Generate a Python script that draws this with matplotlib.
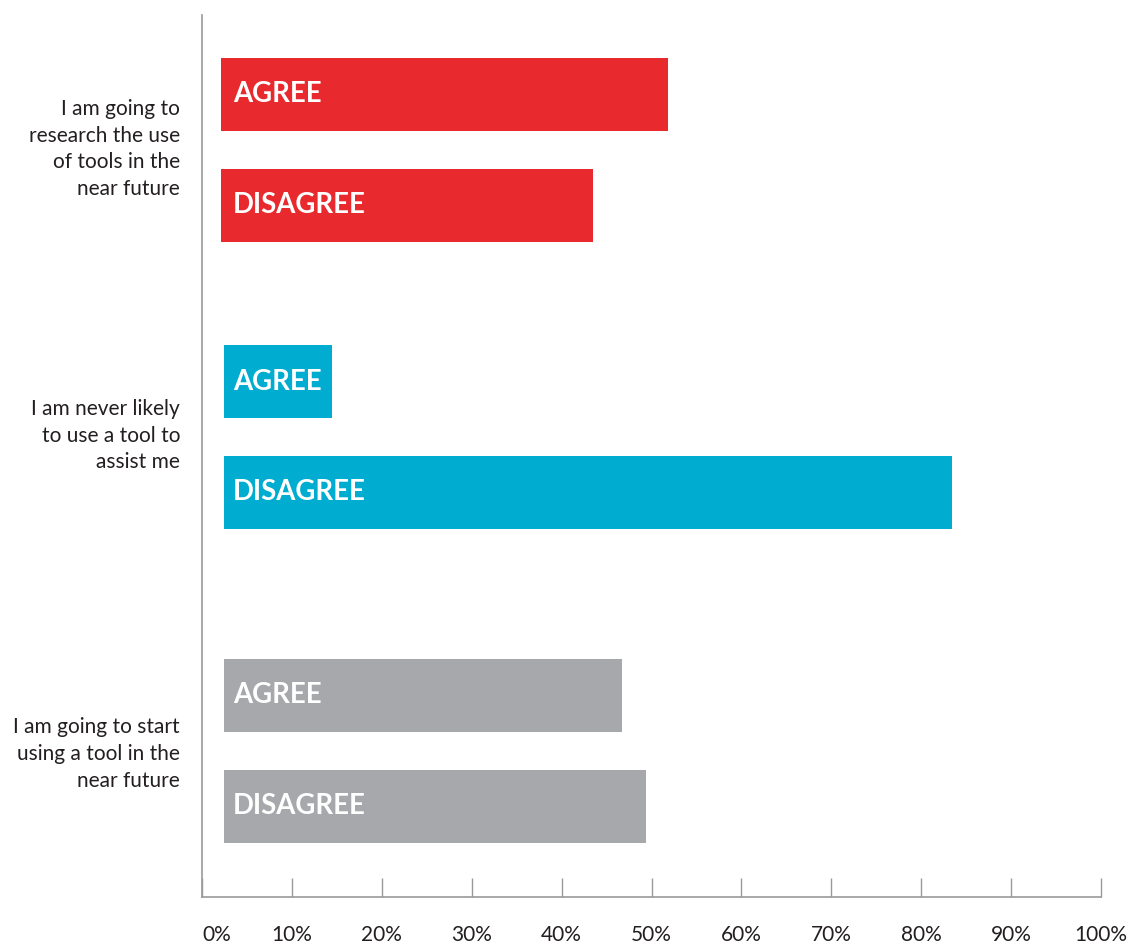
import matplotlib
matplotlib.use("Agg")
import matplotlib.pyplot as plt

# ---- data ----
statements = [
    "I am going to\nresearch the use\nof tools in the\nnear future",
    "I am never likely\nto use a tool to\nassist me",
    "I am going to start\nusing a tool in the\nnear future",
]
responses = ["AGREE", "DISAGREE"]
agree_pct = [51.8, 14.5, 46.7]      # bar end (% of axis)
disagree_pct = [43.5, 83.4, 49.4]   # bar end (% of axis)
bar_starts = [2.1, 2.4, 2.4]
colors = ["#E8292D", "#00ACCF", "#A7A8AB"]
tick_vals = list(range(0, 101, 10))
tick_labels = [f"{v}%" for v in tick_vals]

# ---- layout ----
W, H, DPI = 1133, 944, 100
fig = plt.figure(figsize=(W / DPI, H / DPI), dpi=DPI)
ax_left, ax_right, ax_top, ax_bot = 202, 1101, 15, 897
ax = fig.add_axes([ax_left / W, 1 - ax_bot / H, (ax_right - ax_left) / W, (ax_bot - ax_top) / H])
ax.set_xlim(0, 100)
ax.set_ylim(ax_bot - ax_top, 0)

group_centers = [134.5, 422, 735.5]   # in pixel-like units from top of axes
label_centers = [134, 420.5, 739]
offset = 55.5
bar_h = 73

font = "Lato"
for i in range(len(statements)):
    vals = [agree_pct[i], disagree_pct[i]]
    ys = [group_centers[i] - offset, group_centers[i] + offset]
    for resp, v, y in zip(responses, vals, ys):
        ax.barh(y, v - bar_starts[i], left=bar_starts[i], height=bar_h,
                color=colors[i], edgecolor="none")
        ax.text(3.45, y, resp, color="white", fontsize=19.8, fontweight="bold",
                family=font, va="center", ha="left")
    ax.text(-22 / (ax_right - ax_left), label_centers[i], statements[i],
            transform=ax.get_yaxis_transform(), ha="right", va="center",
            multialignment="right", fontsize=15, family=font, color="#231F20",
            linespacing=1.41)

for s in ["top", "right"]:
    ax.spines[s].set_visible(False)
for s in ["left", "bottom"]:
    ax.spines[s].set_color("#9A9A9A")
    ax.spines[s].set_linewidth(1.2)
ax.set_yticks([])
ax.set_xticks(tick_vals)
ax.set_xticklabels(tick_labels, family=font, fontsize=15, color="#231F20")
ax.get_xticklabels()[0].set_horizontalalignment("left")
ax.tick_params(axis="x", direction="in", length=13.5, width=1.0, color="#9A9A9A", pad=20)

fig.savefig("out.png", dpi=DPI)
